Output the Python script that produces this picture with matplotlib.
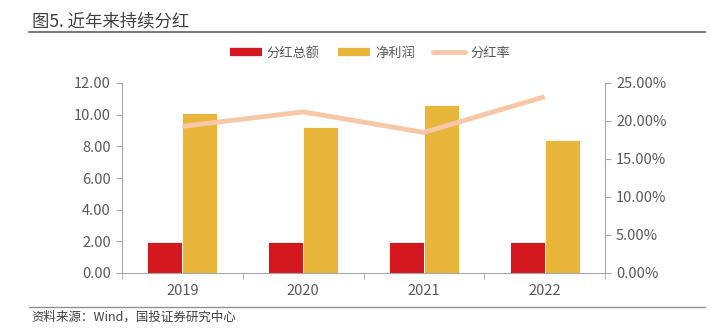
import matplotlib.pyplot as plt
import numpy as np
from matplotlib.lines import Line2D

plt.rcParams['font.family'] = ['Noto Sans CJK SC', 'DejaVu Sans']

# Data
years = ['2019', '2020', '2021', '2022']
dividend_total = [1.94, 1.94, 1.95, 1.95]   # 分红总额
net_profit = [10.09, 9.22, 10.61, 8.40]     # 净利润
payout_ratio = [19.3, 21.2, 18.5, 23.2]     # 分红率 (%)

left_ticks = [0, 2, 4, 6, 8, 10, 12]
right_ticks = [0, 5, 10, 15, 20, 25]

RED = '#D3191F'
GOLD = '#E8B63A'
PEACH = '#F6C8A8'
GRAY = '#595959'
AXIS = '#A6A6A6'

fig = plt.figure(figsize=(7.1, 3.34), dpi=100)
ax = fig.add_axes([122 / 710, 1 - 273 / 334, (605 - 122) / 710, 190 / 334])

x = np.arange(len(years))
w = 0.29
ax.bar(x - w / 2, dividend_total, w, color=RED, edgecolor='white', linewidth=0.6)
ax.bar(x + w / 2, net_profit, w, color=GOLD, edgecolor='white', linewidth=0.6)

ax.set_xlim(-0.5, len(years) - 0.5)
ax.set_ylim(0, 12)
ax.set_yticks(left_ticks)
ax.set_yticklabels([f'{v:.2f}' for v in left_ticks])
ax.set_xticks(x)
ax.set_xticklabels(years)
ax.set_xticks(np.arange(-0.5, len(years), 1), minor=True)
ax.tick_params(axis='x', which='major', length=0, pad=8, labelsize=10.5, colors=GRAY)
ax.tick_params(axis='x', which='minor', length=4, color=AXIS, direction='out')
ax.tick_params(axis='y', length=4, color=AXIS, labelsize=10.5, labelcolor=GRAY, pad=4)

for s in ['top', 'right']:
    ax.spines[s].set_visible(False)
for s in ['left', 'bottom']:
    ax.spines[s].set_color(AXIS)
    ax.spines[s].set_linewidth(0.8)

ax2 = ax.twinx()
ax2.plot(x, payout_ratio, color=PEACH, linewidth=3.5, solid_capstyle='butt')
ax2.set_ylim(0, 25)
ax2.set_yticks(right_ticks)
ax2.set_yticklabels([f'{v:.2f}%' for v in right_ticks])
ax2.tick_params(axis='y', length=4, color=AXIS, labelsize=10.5, labelcolor=GRAY, pad=4)
for s in ['top', 'left', 'bottom']:
    ax2.spines[s].set_visible(False)
ax2.spines['right'].set_color(AXIS)
ax2.spines['right'].set_linewidth(0.8)

handles = [
    Line2D([0], [0], color=RED, linewidth=6, solid_capstyle='butt'),
    Line2D([0], [0], color=GOLD, linewidth=6, solid_capstyle='butt'),
    Line2D([0], [0], color=PEACH, linewidth=3.5, solid_capstyle='round'),
]
fig.legend(handles, ['分红总额', '净利润', '分红率'], loc='center',
           bbox_to_anchor=(370 / 710, 1 - 53 / 334), ncol=3, frameon=False,
           fontsize=9.5, handlelength=2.4, columnspacing=1.4, handletextpad=0.4,
           labelcolor=GRAY)

# title and rules
fig.text(32 / 710, 1 - 21 / 334, '图5. 近年来持续分红', fontsize=12.5, fontweight='medium',
         color='#404040', va='center', ha='left')
fig.add_artist(Line2D([29 / 710, 705 / 710], [1 - 32 / 334] * 2, color='#606060', linewidth=1.2))
fig.add_artist(Line2D([29 / 710, 705 / 710], [1 - 306.5 / 334] * 2, color='#909090', linewidth=1.0))
fig.text(31 / 710, 1 - 317 / 334, '资料来源：Wind，国投证券研究中心', fontsize=9,
         color='#404040', style='italic', va='center', ha='left')

fig.savefig('out.png', dpi=100)
